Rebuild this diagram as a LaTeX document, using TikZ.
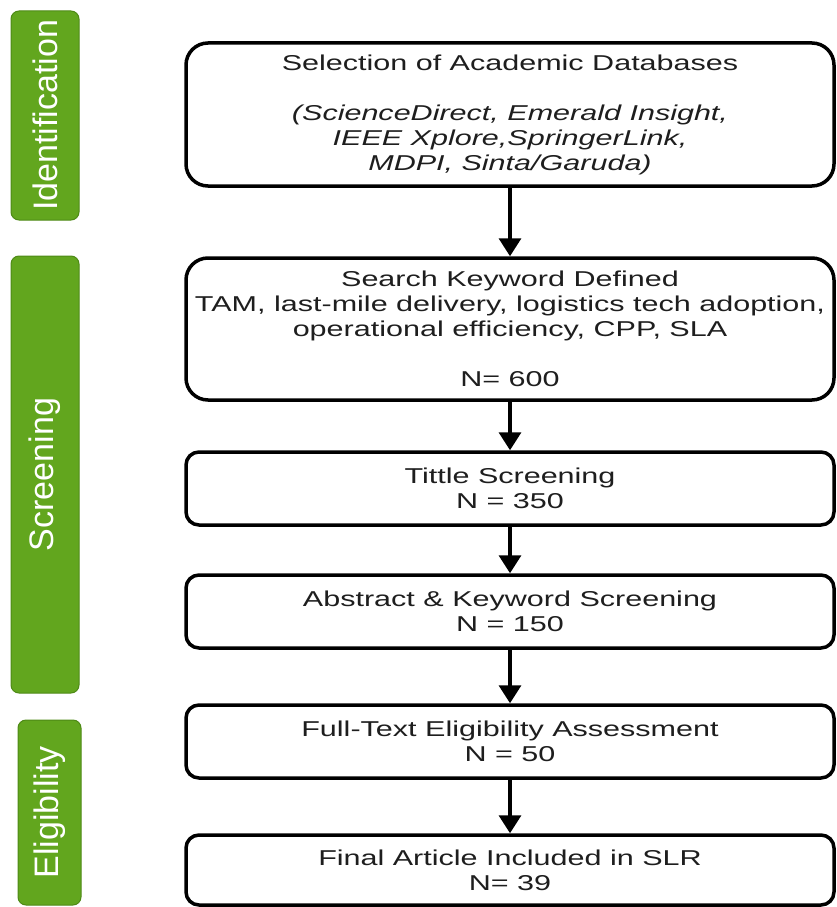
\documentclass[tikz,border=0pt]{standalone}
\usepackage{fontspec}
\setmainfont{Liberation Sans}
\newfontfamily\wideface{Liberation Sans}[FakeStretch=1.42]
\usetikzlibrary{arrows.meta}
\definecolor{stagegreen}{RGB}{98,166,30}
\definecolor{stageedge}{RGB}{78,138,22}
\definecolor{inkgray}{RGB}{30,30,30}

\begin{document}
\begin{tikzpicture}[x=1pt, y=-1pt,
  stage/.style={draw=stageedge, fill=stagegreen, line width=1pt, rounded corners=8pt, rotate=90,
    minimum height=68pt, inner sep=0pt, text=white, font=\fontsize{34}{34}\selectfont},
  stepbox/.style={draw=black, line width=3.5pt, fill=white, rounded corners=13pt, minimum width=648pt,
    inner sep=0pt, align=center, text=inkgray, font=\wideface\fontsize{21.5}{25}\selectfont},
  bigbox/.style={stepbox, rounded corners=22pt},
  flow/.style={line width=3.5pt, -{Triangle[width=22pt,length=18pt]}}]
\useasboundingbox (0,0) rectangle (837,907);

% phases on the left
\node[stage, minimum width=209pt] (ident) at (45,115.5) {Identification};
\node[stage, minimum width=437pt] (screen) at (45,474.5) {Screening};
\node[stage, minimum width=185pt, minimum height=63pt] (elig) at (49.5,812.5) {Eligibility};

% steps
\node[bigbox, minimum height=143pt] (db) at (510,114.5) {Selection of Academic Databases\\[25pt]
  \itshape (ScienceDirect, Emerald Insight,\\ \itshape IEEE Xplore,SpringerLink,\\ \itshape MDPI, Sinta/Garuda)};
\node[bigbox, minimum height=142pt] (kw) at (510,329) {Search Keyword Defined\\
  TAM, last-mile delivery, logistics tech adoption,\\ operational efficiency, CPP, SLA\\[25pt] N= 600};
\node[stepbox, minimum height=73pt] (title) at (510,488.5) {Tittle Screening\\ N = 350};
\node[stepbox, minimum height=73pt] (abs) at (510,611.5) {Abstract \& Keyword Screening\\ N = 150};
\node[stepbox, minimum height=73pt] (full) at (510,741.5) {Full-Text Eligibility Assessment\\ N = 50};
\node[stepbox, minimum height=70pt] (final) at (510,870) {Final Article Included in SLR\\ N= 39};

\foreach \a/\b in {db/kw, kw/title, title/abs, abs/full, full/final}
  \draw[flow] (\a) -- (\b);
\end{tikzpicture}
\end{document}
